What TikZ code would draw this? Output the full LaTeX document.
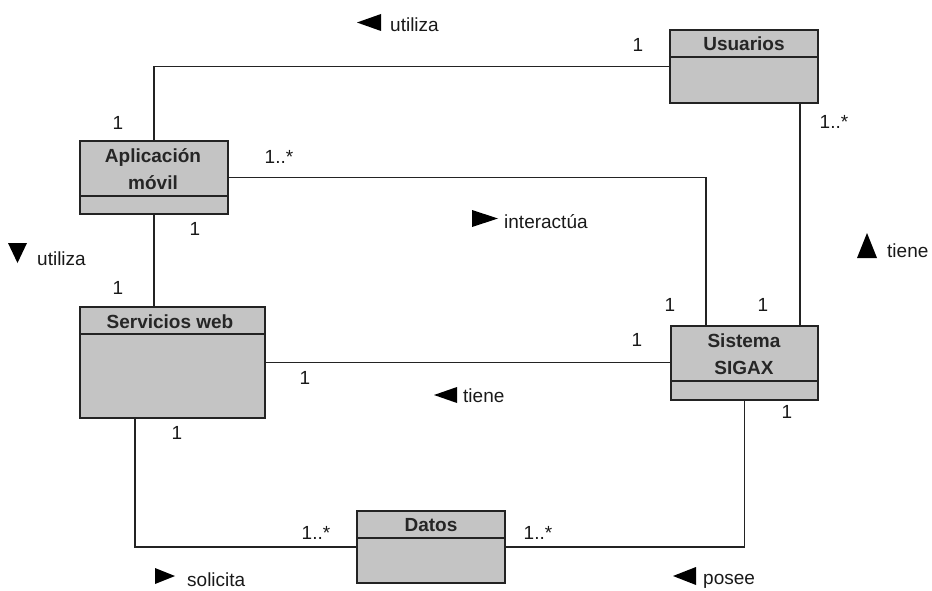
\documentclass[tikz,border=0pt]{standalone}
\usepackage{fontspec}
\setmainfont{Liberation Sans}
\definecolor{clsgray}{RGB}{196,196,196}
\definecolor{edge}{RGB}{35,35,35}
\begin{document}
\begin{tikzpicture}[x=1pt,y=-1pt,
  cls/.style={draw=edge, line width=1.6pt, fill=clsgray, inner sep=0pt},
  ttl/.style={font=\fontsize{19}{27}\selectfont\bfseries, text=black!85, align=center, inner sep=0pt},
  lbl/.style={font=\fontsize{19}{22}\selectfont, text=black!90, inner sep=0pt, anchor=base west},
  mult/.style={font=\fontsize{19}{22}\selectfont, text=black!90, inner sep=0pt},
  assoc/.style={line width=1.5pt, draw=edge},
  divider/.style={line width=1.6pt, draw=edge},
  tri/.style={fill=black}]

\useasboundingbox (0,0) rectangle (932,591);

% classes
\node[cls, minimum width=148pt, minimum height=73pt] (usu) at (744,66.5) {};
\node[cls, minimum width=148pt, minimum height=73pt] (app) at (154,177.5) {};
\node[cls, minimum width=185pt, minimum height=111pt] (srv) at (172.5,362.5) {};
\node[cls, minimum width=147pt, minimum height=74pt] (sis) at (744.5,363) {};
\node[cls, minimum width=148pt, minimum height=72pt] (dat) at (431,547) {};

% compartment dividers
\draw[divider] (usu.west |- 0,57) -- (usu.east |- 0,57);
\draw[divider] (app.west |- 0,196) -- (app.east |- 0,196);
\draw[divider] (srv.west |- 0,334) -- (srv.east |- 0,334);
\draw[divider] (sis.west |- 0,381) -- (sis.east |- 0,381);
\draw[divider] (dat.west |- 0,538) -- (dat.east |- 0,538);

% class names
\node[ttl] (usuT) at (744,44) {Usuarios};
\node[ttl] (appT) at (153,169) {Aplicación\\móvil};
\node[ttl] (srvT) at (170,322) {Servicios web};
\node[ttl] (sisT) at (744,354) {Sistema\\SIGAX};
\node[ttl] (datT) at (431,525) {Datos};

% associations
\draw[assoc] (usu.west) -| (app.north);
\draw[assoc] (app.east) -| (sis.north -| 706,0);
\draw[assoc] (usu.south -| 800,0) -- (sis.north -| 800,0);
\draw[assoc] (app.south) -- (app.south |- srv.north);
\draw[assoc] (srv.east) -- (srv.east -| sis.west);
\draw[assoc] (srv.south -| 135,0) |- (dat.west);
\draw[assoc] (sis.south) |- (dat.east);

% multiplicities
\node[mult] (m1) at (638,45) {1};
\node[mult] (m2) at (118,123) {1};
\node[mult] (m3) at (279,157) {1..*};
\node[mult] (m4) at (195,229) {1};
\node[mult] (m5) at (118,288) {1};
\node[mult] (m6) at (834,122) {1..*};
\node[mult] (m7) at (670,305) {1};
\node[mult] (m8) at (763,305) {1};
\node[mult] (m9) at (637,340) {1};
\node[mult] (m10) at (305,378) {1};
\node[mult] (m11) at (787,412) {1};
\node[mult] (m12) at (177,433) {1};
\node[mult] (m13) at (316,533) {1..*};
\node[mult] (m14) at (538,533) {1..*};

% role names with reading direction
\fill[tri] (381,14) -- (381,31) -- (357,22.5) -- cycle;
\node[lbl] (r1) at (390,32) {utiliza};
\fill[tri] (472,210) -- (472,227) -- (498,218.5) -- cycle;
\node[lbl] (r2) at (504,228) {interactúa};
\fill[tri] (857,258) -- (877,258) -- (867,233) -- cycle;
\node[lbl] (r3) at (887,257) {tiene};
\fill[tri] (8,243) -- (27,243) -- (17.5,263) -- cycle;
\node[lbl] (r4) at (37,265) {utiliza};
\fill[tri] (457,387) -- (457,403) -- (434,395) -- cycle;
\node[lbl] (r5) at (463,402) {tiene};
\fill[tri] (155,568) -- (155,584) -- (175,576) -- cycle;
\node[lbl] (r6) at (187,586) {solicita};
\fill[tri] (696,567) -- (696,585) -- (673,576) -- cycle;
\node[lbl] (r7) at (703,584) {posee};

\end{tikzpicture}
\end{document}
